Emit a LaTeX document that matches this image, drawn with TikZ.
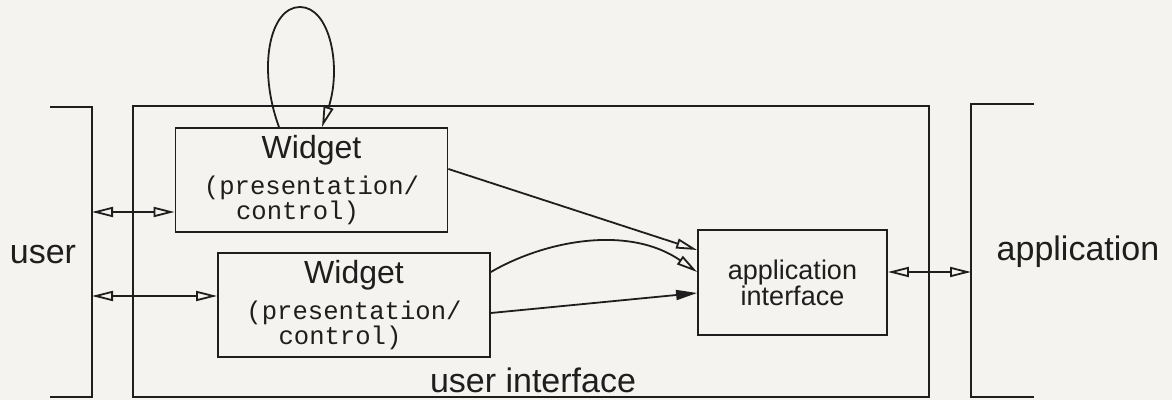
\documentclass[tikz,border=0pt]{standalone}
\usepackage{fontspec}
\setsansfont{Liberation Sans}
\setmonofont{Liberation Mono}
\usetikzlibrary{arrows.meta,calc}
\definecolor{paper}{HTML}{F4F3EF}
\definecolor{ink}{HTML}{1E1E1E}
\newcommand{\wdgtext}{{\fontsize{16}{18}\selectfont Widget}\\[4pt]\texttt{(presentation/}\\\texttt{\hspace*{-14pt}control)}}

\begin{document}
\begin{tikzpicture}[x=0.5pt,y=-0.5pt,line width=0.9pt,ink,
  box/.style={draw,rectangle,inner sep=0pt,align=center},
  wdg/.style={box,minimum width=136pt,minimum height=52pt,font=\sffamily\fontsize{12.8}{12.5}\selectfont},
  lbl/.style={font=\sffamily\fontsize{17}{20}\selectfont},
  tip/.style={-{Triangle[open,fill=paper,length=10.5pt,width=5pt]}},
  bitip/.style={{Triangle[open,fill=paper,length=10.5pt,width=5pt]}-{Triangle[open,fill=paper,length=10.5pt,width=5pt]}},
  fulltip/.style={-{Triangle[length=10.5pt,width=5pt]}}]
\fill[paper] (0,0) rectangle (1172,400);\useasboundingbox (0,0) rectangle (1172,400);
% user, user interface, application
\draw (50,107)--(92,107)--(92,397)--(50,397);\coordinate (ubar) at (92,250);
\node[lbl] (usr) at (43,255){user};
\draw (133,106) rectangle (929,397);\node[lbl] (uilbl) at (533,380){user interface};
\draw (1034,104)--(971,104)--(971,397)--(1034,397);\coordinate (abar) at (971,250);
\node[lbl] (app) at (1078,252){application};
% widgets
\node[wdg] (w1) at (311.5,180){\wdgtext};
\node[wdg] (w2) at (354,305){\wdgtext};
\node[box,minimum width=94.5pt,minimum height=52.5pt,font=\sffamily\fontsize{13.5}{13}\selectfont] (aif) at (792.5,282.5){application\\interface};
% connectors
\coordinate (w1in) at ($(w1.west)+(0,32)$);\coordinate (w2in) at ($(w2.west)+(0,-9)$);
\coordinate (aout) at ($(aif.east)+(0,-10.5)$);
\draw[bitip] (ubar |- w1in)--(w1in);\draw[bitip] (ubar |- w2in)--(w2in);
\draw[tip] ($(w1.north)+(-32.5,0)$) .. controls +(-22,-60) and (270,7) .. (300,7) .. controls (330,7) and +(20,-60) .. ($(w1.north)+(10.5,0)$);
\draw[tip] ($(w1.east)+(0,-11)$)--($(aif.west)+(0,-32.5)$);
\draw[tip] ($(w2.east)+(0,-33)$) .. controls +(55,-32) and +(-68,-47) .. ($(aif.west)+(0,-10.5)$);
\draw[fulltip] ($(w2.east)+(0,8)$)--($(aif.west)+(0,10.5)$);
\draw[bitip] (aout)--(abar |- aout);
\end{tikzpicture}
\end{document}
